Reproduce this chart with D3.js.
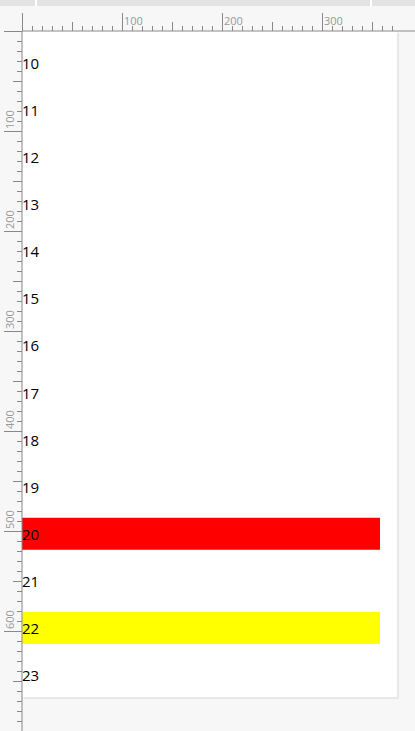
<!DOCTYPE html>
<html><head><meta charset="utf-8">
<script src="https://cdn.jsdelivr.net/npm/d3@7"></script>
<style>body{margin:0;background:#f7f7f7;}svg{display:block;}</style>
</head><body>
<script>
// Row labels and highlighted rows
const hours = [10, 11, 12, 13, 14, 15, 16, 17, 18, 19, 20, 21, 22, 23];
const highlightHours = [20, 22];
const highlightColors = ["#ff0000", "#ffff00"];
const highlightSpan = [100, 100]; // percent of row width
const rulerTicksX = d3.range(0, 380, 10);
const rulerTicksY = d3.range(0, 700, 10);

const W = 415, H = 731, ox = 22, oy = 31;
const svg = d3.select("body").append("svg").attr("width", W).attr("height", H);

// top window strip
svg.append("rect").attr("width", W).attr("height", 6).attr("fill", "#e3e3e3");
svg.append("rect").attr("x", 35).attr("width", 2).attr("height", 6).attr("fill", "#fff");
svg.append("rect").attr("x", 370).attr("width", 2).attr("height", 6).attr("fill", "#fff");

// page with shadow
svg.append("rect").attr("x", ox + 2).attr("y", oy + 2).attr("width", 375).attr("height", 666).attr("fill", "#e8e8e8");
svg.append("rect").attr("x", ox).attr("y", oy).attr("width", 375).attr("height", 666).attr("fill", "#fff");

const y = d3.scalePoint().domain(hours).range([63, 675]);
const x = d3.scaleLinear().domain([0, 100]).range([ox, 380]);

svg.selectAll(".bar").data(highlightHours).enter().append("rect")
  .attr("x", x(0)).attr("y", d => y(d) - 16)
  .attr("width", (d, i) => x(highlightSpan[i]) - x(0)).attr("height", 32)
  .attr("fill", (d, i) => highlightColors[i]);

svg.selectAll(".lbl").data(hours).enter().append("text")
  .attr("x", ox).attr("y", d => y(d) + 6)
  .attr("font-family", "Open Sans").attr("font-size", 15).attr("fill", "#000")
  .text(d => d);

// top ruler
const rx = d3.scaleLinear().domain([0, 100]).range([ox, ox + 100]);
const tick = v => v % 100 === 0 ? 18 : v % 50 === 0 ? 9 : 5;
svg.append("line").attr("x1", ox).attr("x2", W).attr("y1", oy).attr("y2", oy).attr("stroke", "#888");
svg.selectAll(".tx").data(rulerTicksX).enter().append("line")
  .attr("x1", d => rx(d) + 0.5).attr("x2", d => rx(d) + 0.5)
  .attr("y1", oy).attr("y2", d => oy - tick(d)).attr("stroke", "#888");
svg.selectAll(".tlx").data(rulerTicksX.filter(d => d > 0 && d % 100 === 0)).enter().append("text")
  .attr("x", d => rx(d) + 2).attr("y", 25).attr("font-family", "Open Sans").attr("font-size", 11)
  .attr("fill", "#999").text(d => d);

// left ruler
const ry = d3.scaleLinear().domain([0, 100]).range([oy, oy + 100]);
svg.append("line").attr("x1", ox).attr("x2", ox).attr("y1", oy).attr("y2", H).attr("stroke", "#888");
svg.selectAll(".ty").data(rulerTicksY).enter().append("line")
  .attr("y1", d => ry(d) + 0.5).attr("y2", d => ry(d) + 0.5)
  .attr("x1", ox).attr("x2", d => ox - tick(d)).attr("stroke", "#888");
svg.selectAll(".tly").data(rulerTicksY.filter(d => d > 0 && d % 100 === 0)).enter().append("text")
  .attr("transform", d => `translate(14,${ry(d) - 2}) rotate(-90)`)
  .attr("font-family", "Open Sans").attr("font-size", 11).attr("fill", "#999").text(d => d);
</script>
</body></html>
